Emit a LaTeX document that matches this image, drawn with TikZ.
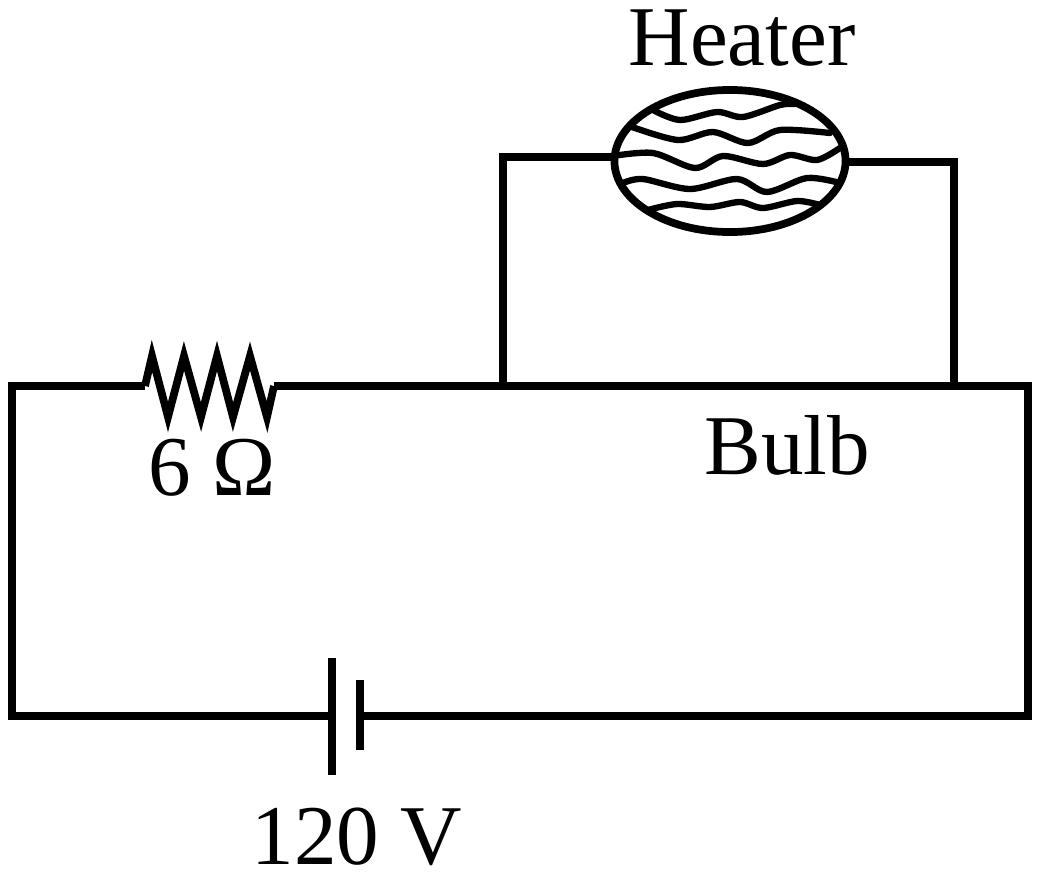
\documentclass[tikz,border=0pt]{standalone}
\usepackage{fontspec}
\setmainfont{Liberation Serif}
\tikzset{
	wire/.style={black,line width=2.2pt,line cap=butt,line join=miter},
	filament/.style={black,line width=1.8pt,line cap=round},
	caption/.style={inner sep=0pt,anchor=base,font=\fontsize{24.2}{24.2}\selectfont},
	heaterbox/.style={draw=black,line width=2.2pt,ellipse,minimum width=2.31cm,minimum height=1.42cm,inner sep=0pt}
}
\usetikzlibrary{shapes.geometric}
\begin{document}
\begin{tikzpicture}[x=0.01cm,y=-0.01cm]
	\useasboundingbox (0,0) rectangle (1050,878);
	% corners and junctions
	\coordinate (tl) at (12,386);
	\coordinate (bl) at (12,716);
	\coordinate (br) at (1028,716);
	\coordinate (tr) at (1028,386);
	\coordinate (ja) at (503,386);
	\coordinate (jb) at (954,386);
	\coordinate (ua) at (503,157);
	\coordinate (ub) at (954,162);
	\coordinate (ra) at (145,386);
	\coordinate (rb) at (274,386);
	% heater
	\node [heaterbox] (heater) at (730,161) {};
	\coordinate (ha) at (612,157);
	\coordinate (hb) at (848,162);
	% battery
	\coordinate (pa) at (332,716);
	\coordinate (pb) at (360,716);
	\coordinate (patop) at (332,658);
	\coordinate (pabot) at (332,775);
	\coordinate (pbtop) at (360,680);
	\coordinate (pbbot) at (360,750);
	% main loop
	\draw [wire] (pa) -- (bl) -- (tl) -- (ra);
	\draw [wire] (ra) -- (152,356) -- (168,417) -- (184,356) -- (201,417) -- (217,356) -- (233,417) -- (250,356) -- (267,417) -- (rb);
	\draw [wire] (rb) -- (tr) -- (br) -- (pb);
	\draw [wire] (patop) -- (pabot);
	\draw [wire] (pbtop) -- (pbbot);
	% heater branch
	\draw [wire] (ja) -- (ua) -- (ha);
	\draw [wire] (hb) -- (ub) -- (jb);
	% filament
	\draw [filament] plot [smooth] coordinates {(653,110) (680,120) (717,112) (743,117) (780,105) (795,104)};
	\draw [filament] plot [smooth] coordinates {(632,127) (678,140) (713,132) (748,143) (780,130) (830,133)};
	\draw [filament] plot [smooth] coordinates {(613,156) (653,153) (695,168) (723,156) (763,164) (790,155) (817,160) (840,148)};
	\draw [filament] plot [smooth] coordinates {(623,183) (643,179) (690,189) (737,179) (767,192) (807,178) (840,183)};
	\draw [filament] plot [smooth] coordinates {(648,210) (677,204) (710,207) (740,202) (763,208) (797,201) (820,205)};
	% labels
	\node [caption] (heaterlabel) at (742,65) {Heater};
	\node [caption] (bulblabel) at (787,474) {Bulb};
	\node [caption] (reslabel) at (212,495) {6 Ω};
	\node [caption] (batlabel) at (357,864) {120 V};
\end{tikzpicture}
\end{document}
